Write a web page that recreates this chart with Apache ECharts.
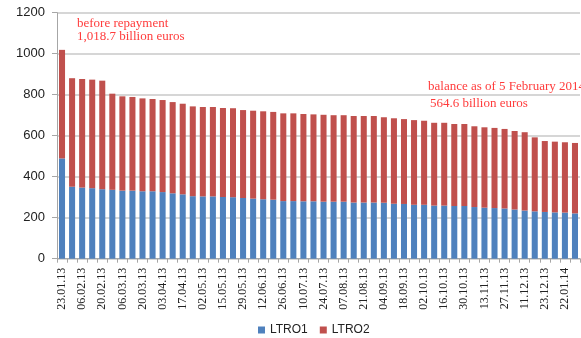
<!DOCTYPE html>
<html>
<head>
<meta charset="utf-8">
<style>
  html, body { margin: 0; padding: 0; background: #fff; }
  #chart { width: 581px; height: 338px; }
</style>
<script src="https://cdn.jsdelivr.net/npm/echarts@6/dist/echarts.min.js"></script>
</head>
<body>
<div id="chart"></div>
<script>
// Weekly settlement dates of the outstanding LTRO balances
const dates = [
  '23.01.13','30.01.13','06.02.13','13.02.13','20.02.13','27.02.13','06.03.13','13.03.13',
  '20.03.13','27.03.13','03.04.13','10.04.13','17.04.13','24.04.13','02.05.13','08.05.13',
  '15.05.13','22.05.13','29.05.13','05.06.13','12.06.13','19.06.13','26.06.13','03.07.13',
  '10.07.13','17.07.13','24.07.13','31.07.13','07.08.13','14.08.13','21.08.13','28.08.13',
  '04.09.13','11.09.13','18.09.13','25.09.13','02.10.13','09.10.13','16.10.13','23.10.13',
  '30.10.13','06.11.13','13.11.13','20.11.13','27.11.13','04.12.13','11.12.13','18.12.13',
  '23.12.13','15.01.14','22.01.14','05.02.14'
];

// Outstanding amounts, billion euros
const ltro1 = [
  489.2, 351, 347, 344, 339, 336, 332, 332, 329, 329, 325, 319, 314, 305, 304, 304,
  301, 300, 296, 293, 290, 288, 281, 281, 280, 280, 278, 278, 278, 274, 274, 274,
  273, 268, 267, 263, 263, 259, 259, 257, 257, 252, 249, 247, 245, 240, 235, 231,
  228, 226, 225, 221.0
];
const ltro2 = [
  529.5, 529.5, 529.5, 529.5, 529.5, 469, 460, 457, 453, 450, 449, 445, 442, 438, 436, 436,
  434, 434, 429, 429, 429, 428, 428, 428, 426, 424, 424, 422, 422, 422, 422, 422,
  417, 417, 414, 413, 410, 404, 404, 400, 400, 394, 392, 391, 388, 383, 382, 361,
  346, 345, 343, 343.6
];

const seriesNames = ['LTRO1', 'LTRO2'];
const seriesColors = ['#4f81bd', '#c0504d'];

// Annotation texts
const noteStart = ['before repayment', '1,018.7 billion euros'];
const noteEnd = ['balance as of 5 February 2014', '564.6 billion euros'];
const titleText = 'LTRO balances (in billions of euros)';

const chart = echarts.init(document.getElementById('chart'), null, { renderer: 'canvas' });

const noteStyle = { fill: '#ff3b3b', font: '13px "Liberation Serif", "Times New Roman", serif' };

chart.setOption({
  animation: false,
  backgroundColor: '#ffffff',
  grid: { left: 57, right: 1, top: 12.7, bottom: 79.3, containLabel: false },
  legend: {
    data: seriesNames,
    top: 319,
    left: 253,
    itemWidth: 7,
    itemHeight: 7,
    itemGap: 12,
    icon: 'rect',
    textStyle: { fontFamily: '"Liberation Sans", Arial, sans-serif', fontSize: 12, color: '#222' }
  },
  xAxis: {
    type: 'category',
    data: dates,
    boundaryGap: true,
    axisLine: { lineStyle: { color: '#a6a6a6', width: 1 } },
    axisTick: { show: true, interval: 0, length: 4, lineStyle: { color: '#a6a6a6' } },
    axisLabel: {
      interval: 1,
      rotate: 90,
      margin: 9,
      fontFamily: '"Liberation Serif", "Times New Roman", serif',
      fontSize: 12,
      color: '#222'
    }
  },
  yAxis: {
    type: 'value',
    min: 0,
    max: 1200,
    interval: 200,
    axisLine: { show: true, lineStyle: { color: '#a6a6a6', width: 1 } },
    axisTick: { show: true, length: 5, lineStyle: { color: '#a6a6a6' } },
    axisLabel: {
      margin: 12,
      formatter: (v) => String(v),
      fontFamily: '"Liberation Sans", Arial, sans-serif',
      fontSize: 13,
      color: '#222'
    },
    splitLine: { lineStyle: { color: '#c8c8c8', width: 1.5 } }
  },
  series: [
    {
      name: seriesNames[0], type: 'bar', stack: 'total', data: ltro1,
      barWidth: '60%', itemStyle: { color: seriesColors[0] }
    },
    {
      name: seriesNames[1], type: 'bar', stack: 'total', data: ltro2,
      barWidth: '60%', itemStyle: { color: seriesColors[1] }
    }
  ],
  graphic: [
    {
      // chart title, mostly above the canvas edge
      type: 'text', x: 550, y: 0.8, silent: true,
      style: {
        text: titleText, fill: '#000', align: 'right', verticalAlign: 'bottom',
        font: 'bold 20px "Liberation Sans", Arial, sans-serif'
      }
    },
    { type: 'text', x: 77, y: 24, silent: true, style: Object.assign({ text: noteStart[0], verticalAlign: 'middle' }, noteStyle) },
    { type: 'text', x: 77, y: 37, silent: true, style: Object.assign({ text: noteStart[1], verticalAlign: 'middle' }, noteStyle) },
    { type: 'text', x: 428, y: 87, silent: true, style: Object.assign({ text: noteEnd[0], verticalAlign: 'middle' }, noteStyle) },
    { type: 'text', x: 430, y: 104, silent: true, style: Object.assign({ text: noteEnd[1], verticalAlign: 'middle' }, noteStyle) }
  ]
});
</script>
</body>
</html>
